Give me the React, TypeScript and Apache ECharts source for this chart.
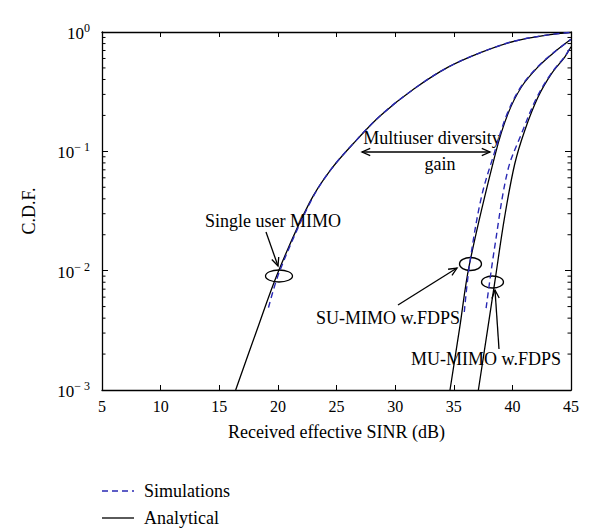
import React, { useEffect, useRef } from 'react';
import * as echarts from 'echarts';

// Received effective SINR (dB) vs C.D.F.
const singleUserAnalytical: number[][] = [
  [16.4, 0.001], [18.2, 0.00315], [20.05, 0.0099], [22.7, 0.0372], [24.5, 0.07],
  [26.76, 0.126], [28.76, 0.2], [31.62, 0.334], [34.48, 0.505], [37.34, 0.675],
  [40.2, 0.84], [43.05, 0.946], [45, 0.993],
];
const singleUserSimulation: number[][] = [
  [19.2, 0.0049], [20.15, 0.0099], [22.75, 0.0372], [24.5, 0.07], [26.76, 0.126],
  [28.76, 0.2], [31.62, 0.334], [34.48, 0.505], [37.34, 0.675], [40.2, 0.84],
  [43.05, 0.946], [45, 0.993],
];
const suFdpsAnalytical: number[][] = [
  [34.68, 0.001], [35.5, 0.0033], [36.33, 0.0112], [38.56, 0.0962], [39.62, 0.206],
  [40.77, 0.346], [42.19, 0.51], [43.62, 0.682], [45, 0.868],
];
const suFdpsSimulation: number[][] = [
  [35.9, 0.0045], [36.35, 0.0113], [37.35, 0.041], [38.45, 0.0962], [39.55, 0.206],
  [40.72, 0.346], [42.15, 0.51], [43.6, 0.682], [45, 0.868],
];
const muFdpsAnalytical: number[][] = [
  [37.1, 0.001], [38.48, 0.00778], [39.33, 0.0278], [40.2, 0.0783], [41.05, 0.149],
  [42.19, 0.285], [43.34, 0.448], [44.48, 0.62], [45, 0.752],
];
const muFdpsSimulation: number[][] = [
  [37.76, 0.00486], [38.48, 0.0155], [39.6, 0.0687], [40.77, 0.14], [42.1, 0.285],
  [43.3, 0.448], [44.45, 0.62], [45, 0.752],
];
const yMinorTicks: number[] = [
  0.002, 0.003, 0.004, 0.005, 0.006, 0.007, 0.008, 0.009,
  0.02, 0.03, 0.04, 0.05, 0.06, 0.07, 0.08, 0.09,
  0.2, 0.3, 0.4, 0.5, 0.6, 0.7, 0.8, 0.9,
];
const legendNames = ['Simulations', 'Analytical'];

const FONT = '"Liberation Serif", "DejaVu Serif", serif';
const BLUE = '#2828b4';

function arrowHead(x2: number, y2: number, x1: number, y1: number, len = 9, ang = 0.42) {
  const a = Math.atan2(y2 - y1, x2 - x1);
  const p1 = [x2 - len * Math.cos(a - ang), y2 - len * Math.sin(a - ang)];
  const p2 = [x2 - len * Math.cos(a + ang), y2 - len * Math.sin(a + ang)];
  return {
    type: 'polyline',
    shape: { points: [p1, [x2, y2], p2] },
    style: { stroke: '#000', fill: 'none', lineWidth: 1.3 },
  };
}
function arrow(x1: number, y1: number, x2: number, y2: number, both = false) {
  const els: any[] = [
    { type: 'line', shape: { x1, y1, x2, y2 }, style: { stroke: '#000', lineWidth: 1.3 } },
    arrowHead(x2, y2, x1, y1),
  ];
  if (both) els.push(arrowHead(x1, y1, x2, y2));
  return els;
}
function label(text: string, x: number, y: number, align = 'center') {
  return {
    type: 'text',
    style: {
      text, x, y, font: `18px ${FONT}`, fill: '#000',
      textAlign: align, textVerticalAlign: 'middle', align, verticalAlign: 'middle',
    },
  };
}
function ellipse(cx: number, cy: number, rx: number, ry: number) {
  return { type: 'ellipse', shape: { cx, cy, rx, ry }, style: { stroke: '#000', fill: 'none', lineWidth: 1.3 } };
}

export default function App() {
  const ref = useRef<HTMLDivElement>(null);
  useEffect(() => {
    if (!ref.current) return;
    const chart = echarts.init(ref.current, undefined, { renderer: 'svg' });
    const analyticStyle = { color: '#000', width: 1.3, type: 'solid' as const };
    const simStyle = { color: BLUE, width: 1.4, type: [6, 4] as any };
    const mk = (name: string, data: number[][], sim: boolean) => ({
      type: 'line', name, data, smooth: 0.35, showSymbol: false, symbol: 'none',
      xAxisIndex: 0, yAxisIndex: 0, color: sim ? BLUE : '#000',
      lineStyle: sim ? simStyle : analyticStyle, silent: true, z: sim ? 3 : 2,
    });
    const option: any = {
      animation: false,
      backgroundColor: '#fff',
      textStyle: { fontFamily: FONT },
      grid: { left: 102, top: 32, width: 469, height: 358, containLabel: false },
      xAxis: [
        {
          type: 'value', min: 5, max: 45, interval: 5, position: 'bottom',
          name: 'Received effective SINR (dB)', nameLocation: 'middle', nameGap: 33,
          nameTextStyle: { fontFamily: FONT, fontSize: 18, color: '#000' },
          axisLine: { lineStyle: { color: '#000', width: 1.3 } },
          axisTick: { inside: true, length: 5, lineStyle: { color: '#000' } },
          axisLabel: { fontFamily: FONT, fontSize: 16, color: '#000', margin: 8 },
          splitLine: { show: false },
        },
        {
          type: 'value', min: 5, max: 45, interval: 5, position: 'top',
          axisLine: { lineStyle: { color: '#000', width: 1.3 } },
          axisTick: { inside: true, length: 5, lineStyle: { color: '#000' } },
          axisLabel: { show: false },
          splitLine: { show: false },
        },
      ],
      yAxis: [
        {
          type: 'log', logBase: 10, min: 0.001, max: 1, position: 'left',
          name: 'C.D.F.', nameLocation: 'middle', nameGap: 64, nameRotate: 90,
          nameTextStyle: { fontFamily: FONT, fontSize: 18, color: '#000' },
          axisLine: { lineStyle: { color: '#000', width: 1.3 } },
          axisTick: { inside: true, length: 6, lineStyle: { color: '#000' } },
          axisLabel: {
            margin: 12,
            formatter: (v: number) => {
              const e = Math.round(Math.log10(v));
              return e === 0 ? '{b|10}{s|0}' : `{b|10}{s|− ${-e}}`;
            },
            rich: {
              b: { fontFamily: FONT, fontSize: 17, color: '#000', lineHeight: 20, verticalAlign: 'bottom' },
              s: { fontFamily: FONT, fontSize: 12, color: '#000', lineHeight: 20, verticalAlign: 'top' },
            },
          },
          splitLine: { show: false },
        },
        {
          type: 'log', logBase: 10, min: 0.001, max: 1, position: 'right',
          axisLine: { lineStyle: { color: '#000', width: 1.3 } },
          axisTick: { inside: true, length: 6, lineStyle: { color: '#000' } },
          axisLabel: { show: false },
          splitLine: { show: false },
        },
      ],
      series: [
        mk('Analytical', singleUserAnalytical, false),
        mk('Analytical', suFdpsAnalytical, false),
        mk('Analytical', muFdpsAnalytical, false),
        mk('Simulations', singleUserSimulation, true),
        mk('Simulations', suFdpsSimulation, true),
        mk('Simulations', muFdpsSimulation, true),
        {
          type: 'custom', name: 'minorTicks', silent: true, clip: false,
          xAxisIndex: 0, yAxisIndex: 0,
          data: yMinorTicks.map((v) => [5, v]),
          encode: { x: 0, y: 1 },
          renderItem: (_p: any, api: any) => {
            const v = api.value(1);
            const pl = api.coord([5, v]);
            const pr = api.coord([45, v]);
            return {
              type: 'group',
              children: [
                { type: 'line', shape: { x1: pl[0], y1: pl[1], x2: pl[0] + 3.5, y2: pl[1] }, style: { stroke: '#000', lineWidth: 1 } },
                { type: 'line', shape: { x1: pr[0] - 3.5, y1: pr[1], x2: pr[0], y2: pr[1] }, style: { stroke: '#000', lineWidth: 1 } },
              ],
            };
          },
        },
      ],
      graphic: [
        label('Multiuser diversity', 432, 138),
        label('gain', 440, 164),
        ...arrow(362, 152, 490, 152, true),
        label('Single user MIMO', 273, 221),
        ...arrow(266, 232, 278, 266),
        ellipse(279, 276, 13.5, 6),
        ellipse(470.5, 264, 11, 6.5),
        ...arrow(398, 305, 457, 268),
        label('SU-MIMO w.FDPS', 388, 318),
        ellipse(492.5, 282, 11, 6),
        ...arrow(499, 349, 495, 290),
        label('MU-MIMO w.FDPS', 486, 359),
        // legend
        { type: 'line', shape: { x1: 102, y1: 491, x2: 134, y2: 491 }, style: { stroke: BLUE, lineWidth: 1.4, lineDash: [6, 4] } },
        label(legendNames[0], 144, 491, 'left'),
        { type: 'line', shape: { x1: 102, y1: 518, x2: 134, y2: 518 }, style: { stroke: '#000', lineWidth: 1.3 } },
        label(legendNames[1], 144, 518, 'left'),
      ],
    };
    chart.setOption(option);
    return () => chart.dispose();
  }, []);
  return <div ref={ref} style={{ position: 'fixed', left: 0, top: 0, width: 600, height: 531, background: '#fff' }} />;
}
